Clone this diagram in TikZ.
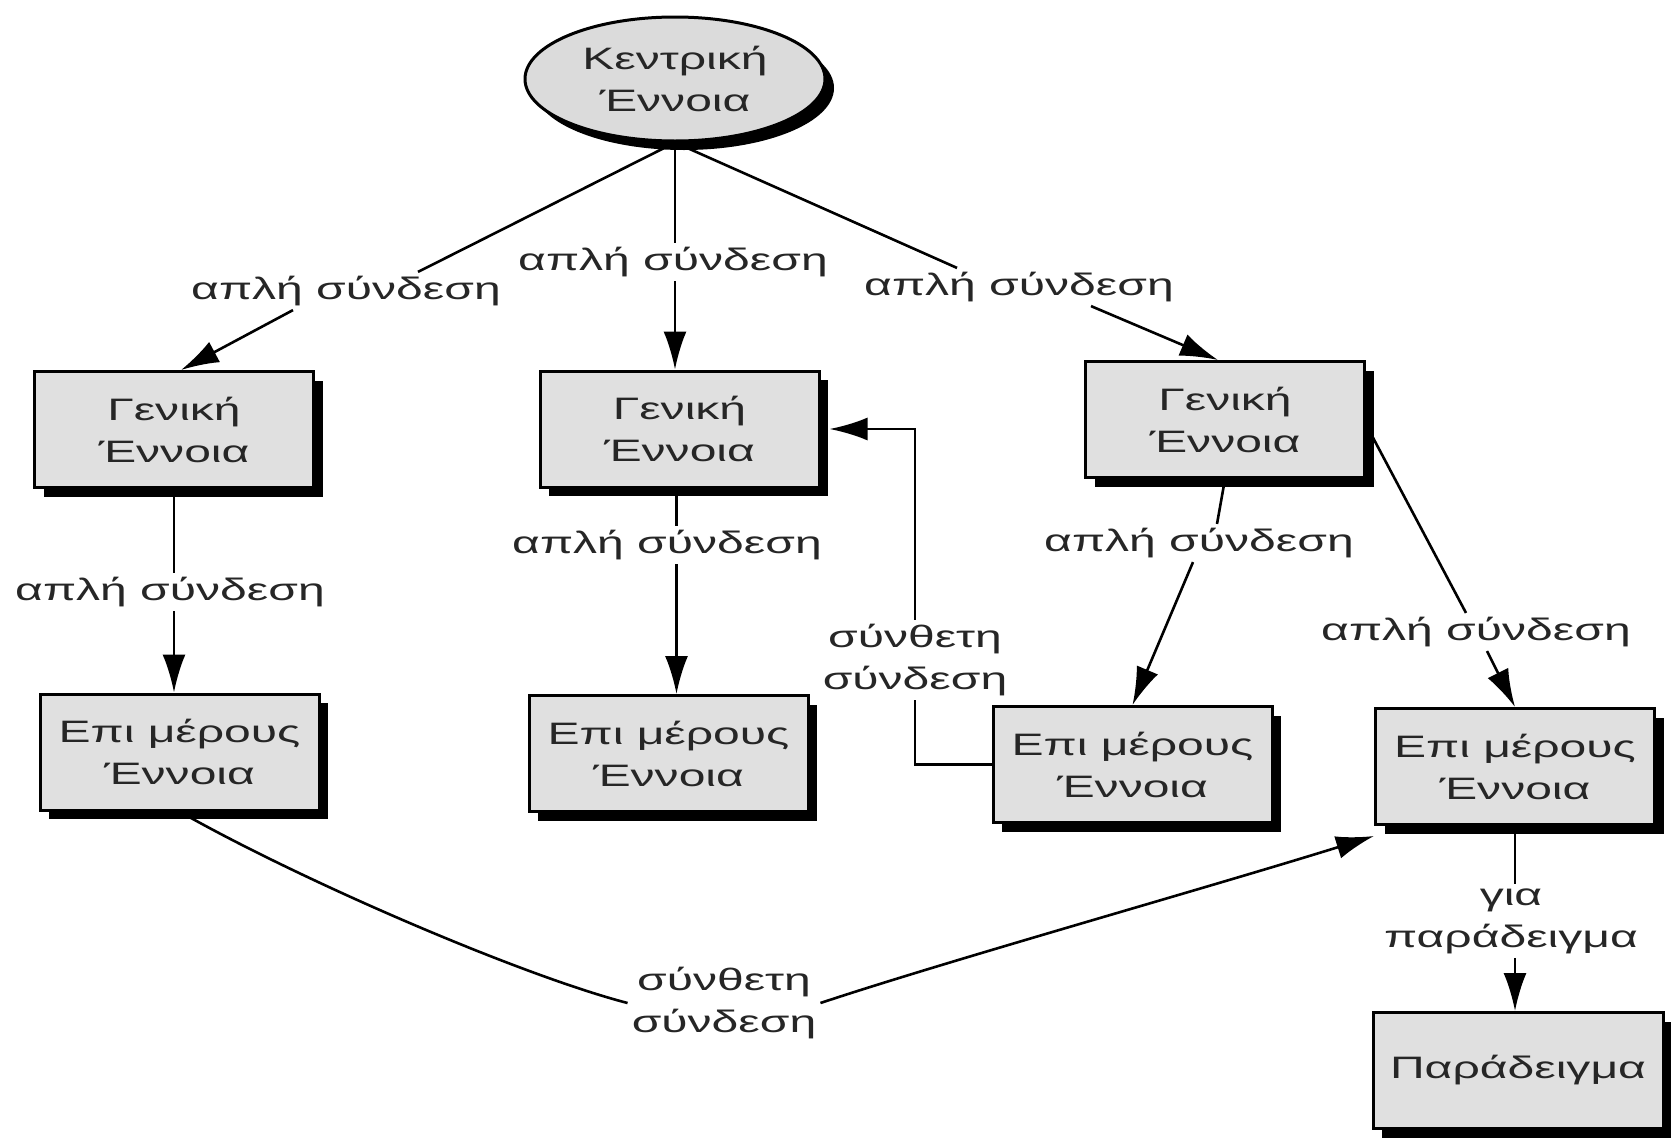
\documentclass[tikz,border=0pt]{standalone}
\usepackage{fontspec}
\setmainfont{Liberation Sans}[FakeStretch=1.55]
\usetikzlibrary{shapes.geometric,shadows,arrows.meta,calc}
\begin{document}
\begin{tikzpicture}[x=1pt,y=-1pt,
  every node/.style={font=\fontsize{31}{42}\selectfont, text=black!85},
  boxshadow/.style={drop shadow={shadow xshift=9pt, shadow yshift=-9pt, fill=black, opacity=1}},
  concept/.style={draw=black, line width=3pt, fill=black!12, minimum width=279pt,
    minimum height=116pt, align=center, inner sep=0pt, boxshadow},
  central/.style={ellipse, draw=black, line width=3pt, fill=black!14, minimum width=300pt,
    minimum height=124pt, align=center, inner sep=0pt, boxshadow},
  linklabel/.style={align=center, inner sep=4pt},
  link/.style={line width=2.6pt, draw=black},
  arrowlink/.style={link, -{Latex[length=38pt,width=23pt]}}]
\useasboundingbox[fill=white] (0,0) rectangle (1671,1138);

% concept nodes
\node[central] (E) at (675,79) {Κεντρική\\Έννοια};
\node[concept] (G1) at (174,429.5) {Γενική\\Έννοια};
\node[concept] (G2) at (679.5,429) {Γενική\\Έννοια};
\node[concept] (G3) at (1225,419.5) {Γενική\\Έννοια};
\node[concept] (P1) at (179.5,752) {Επι μέρους\\Έννοια};
\node[concept] (P2) at (668.5,753.5) {Επι μέρους\\Έννοια};
\node[concept] (P3) at (1132.5,764.5) {Επι μέρους\\Έννοια};
\node[concept] (P4) at (1515,766.5) {Επι μέρους\\Έννοια};
\node[concept, minimum width=290pt] (Ex) at (1518,1070.5) {Παράδειγμα};

% link labels
\node[linklabel] (l1) at (346,291) {απλή σύνδεση};
\node[linklabel] (l2) at (673,262) {απλή σύνδεση};
\node[linklabel] (l3) at (1019,287) {απλή σύνδεση};
\node[linklabel] (l4) at (170,592) {απλή σύνδεση};
\node[linklabel] (l5) at (667,545) {απλή σύνδεση};
\node[linklabel] (l6) at (1199,543) {απλή σύνδεση};
\node[linklabel] (l7) at (1476,632) {απλή σύνδεση};
\node[linklabel] (l8) at (724,1003) {σύνθετη\\σύνδεση};
\node[linklabel] (l9) at (915,660) {σύνθετη\\σύνδεση};
\node[linklabel] (l10) at (1511,921) {για\\παράδειγμα};

% connectors
\draw[link] (E.south) -- ([xshift=72pt]l1.north);
\draw[arrowlink] ([xshift=-53pt]l1.south) -- ([xshift=7pt]G1.north);
\draw[link] (E.south) -- (E.south |- l2.north);
\draw[arrowlink] (E.south |- l2.south) -- (E.south |- G2.north);
\draw[link] (E.south) -- ([xshift=-62pt]l3.north);
\draw[arrowlink] ([xshift=72pt]l3.south) -- ([xshift=-7pt]G3.north);

\draw[link] (G1.south) -- (G1.south |- l4.north);
\draw[arrowlink] (G1.south |- l4.south) -- (G1.south |- P1.north);
\draw[link] ([xshift=-3pt]G2.south) -- ([xshift=-3pt]G2.south |- l5.north);
\draw[arrowlink] ([xshift=-3pt]G2.south |- l5.south) -- ([xshift=-3pt]G2.south |- P2.north);
\draw[link] (G3.south) -- ([xshift=18pt]l6.north);
\draw[arrowlink] ([xshift=-6pt]l6.south) -- (P3.north);
\draw[link] ([yshift=-5pt]G3.east) -- ([xshift=-10pt]l7.north);
\draw[arrowlink] ([xshift=11pt]l7.south) -- (P4.north);

\draw[link] (P1.south) .. controls (300,880) and (520,975) .. (l8.west);
\draw[arrowlink] (l8.east) .. controls (950,960) and (1200,890) .. ([yshift=-10pt]P4.south west);

\draw[link] (P3.west) -| (l9.south);
\draw[arrowlink] (l9.north) |- ([xshift=9pt]G2.east);

\draw[link] (P4.south) -- (P4.south |- l10.north);
\draw[arrowlink] (P4.south |- l10.south) -- (P4.south |- Ex.north);
\end{tikzpicture}
\end{document}
